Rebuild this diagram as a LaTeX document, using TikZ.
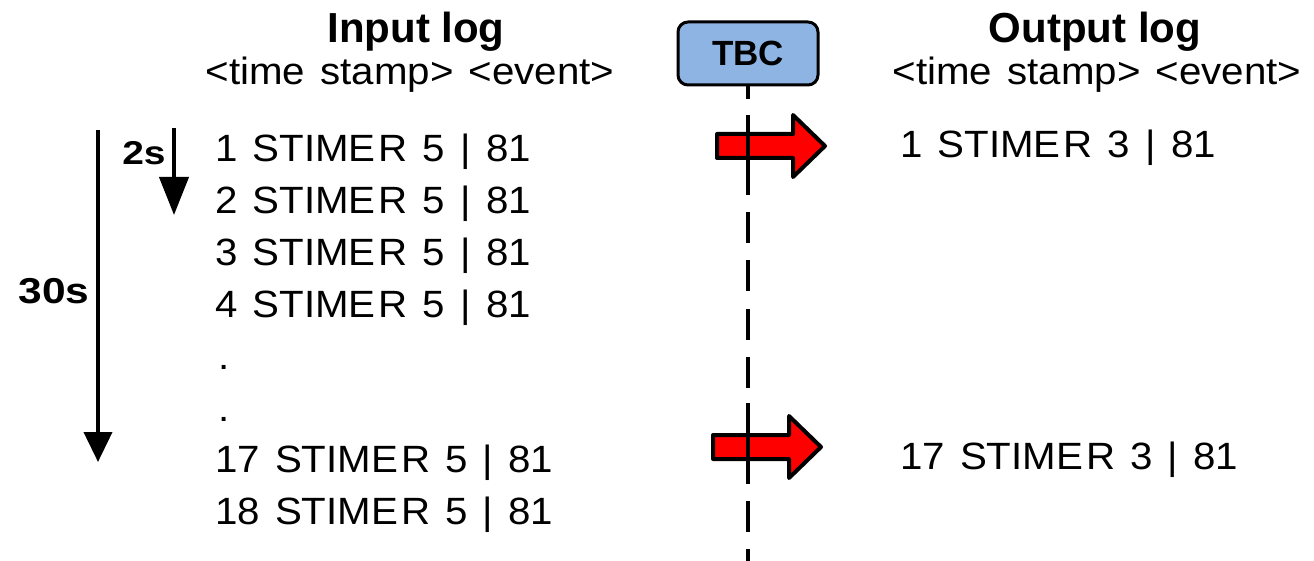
\documentclass[tikz,border=0pt]{standalone}
\usepackage{fontspec}
\setmainfont{Liberation Sans}
\newfontfamily\widefont[FakeStretch=1.18]{Liberation Sans}
\newfontfamily\logfont[FakeStretch=1.06,WordSpace=1.35]{Liberation Sans}
\usetikzlibrary{arrows.meta}
\definecolor{tbcblue}{RGB}{142,180,227}
\definecolor{passred}{RGB}{255,0,0}

\tikzset{
  entry/.style={inner sep=0pt, anchor=base west, font=\logfont\fontsize{38}{42}\selectfont},
  heading/.style={inner sep=0pt, anchor=base, font=\bfseries\fontsize{42}{48}\selectfont},
  fields/.style={inner sep=0pt, anchor=base, font=\logfont\fontsize{38}{42}\selectfont},
  span/.style={inner sep=0pt, anchor=base, font=\widefont\bfseries},
  tbcbox/.style={draw, line width=3pt, fill=tbcblue, rounded corners=10pt,
    minimum width=140pt, minimum height=63pt, inner sep=0pt,
    font=\bfseries\fontsize{35}{40}\selectfont},
  lifeline/.style={line width=4pt, dash pattern=on 31pt off 17pt, dash phase=18pt},
  crossing/.style={line width=4pt},
  timeline/.style={line width=4pt},
  blockarrow/.pic={
    \draw[line width=4pt, fill=passred, line join=round]
      (0,-12) -- (76,-12) -- (76,-31) -- (108,0) -- (76,31) -- (76,12) -- (0,12) -- cycle;
  }
}

\begin{document}
\begin{tikzpicture}[x=1pt,y=-1pt]
  \useasboundingbox (0,0) rectangle (1314,561);

  % column headings
  \node[heading] (inhead) at (416,43) {Input log};
  \node[fields] (infields) at (410,85) {<time stamp> <event>};
  \node[heading] (outhead) at (1095,43) {Output log};
  \node[fields] (outfields) at (1097,85) {<time stamp> <event>};

  % input log entries
  \node[entry] (in1)  at (215,162)   {1 STIME\kern3pt R 5 | 81};
  \node[entry] (in2)  at (215,213.8) {2 STIME\kern3pt R 5 | 81};
  \node[entry] (in3)  at (215,265.6) {3 STIME\kern3pt R 5 | 81};
  \node[entry] (in4)  at (215,317.4) {4 STIME\kern3pt R 5 | 81};
  \node[entry] (dot1) at (218,369.2) {.};
  \node[entry] (dot2) at (218,421) {.};
  \node[entry] (in17) at (215,472.8) {17 STIME\kern3pt R 5 | 81};
  \node[entry] (in18) at (215,524.6) {18 STIME\kern3pt R 5 | 81};

  % output log entries
  \node[entry] (out1)  at (900,158) {1 STIME\kern3pt R 3 | 81};
  \node[entry] (out17) at (900,469) {17 STIME\kern3pt R 3 | 81};

  % time spans
  \coordinate (long top) at (98,130);
  \coordinate (long end) at (98,462);
  \draw[timeline, -{Triangle[width=28pt,length=30pt]}] (long top) -- (long end);
  \node[span, font=\widefont\bfseries\fontsize{36}{40}\selectfont] (t30) at (54,303) {30s};

  \coordinate (short top) at (174,128);
  \coordinate (short end) at (174,215);
  \draw[timeline, -{Triangle[width=29pt,length=38pt]}] (short top) -- (short end);
  \node[span, font=\widefont\bfseries\fontsize{33}{36}\selectfont] (t2) at (144,165) {2s};

  % TBC with its lifeline
  \node[tbcbox] (tbc) at (748,53.5) {TBC};
  \coordinate (life end) at (748,561);
  \draw[lifeline] (tbc.south) -- (life end);

  % events passed through
  \pic at (717,146) {blockarrow};
  \pic at (713,447) {blockarrow};
  \coordinate (pass1 top) at (748,115);
  \coordinate (pass1 end) at (748,194);
  \coordinate (pass2 top) at (748,403);
  \coordinate (pass2 end) at (748,482);
  \draw[crossing] (pass1 top) -- (pass1 end);
  \draw[crossing] (pass2 top) -- (pass2 end);
\end{tikzpicture}
\end{document}
